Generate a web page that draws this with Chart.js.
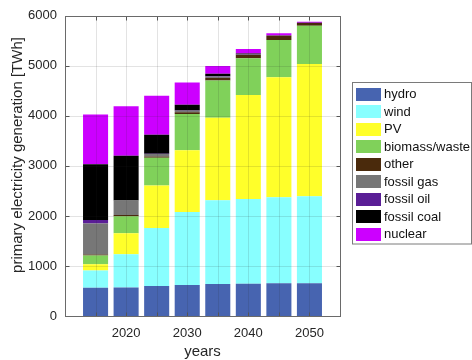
<!DOCTYPE html>
<html>
<head>
<meta charset="utf-8">
<script src="https://cdn.jsdelivr.net/npm/chart.js@4/dist/chart.umd.min.js"></script>
<style>
  html, body { margin: 0; padding: 0; background: #fff; }
  canvas { display: block; }
</style>
</head>
<body>
<canvas id="chart" width="472" height="360"></canvas>
<script>
// Primary electricity generation by source, TWh per year
const years = [2015, 2020, 2025, 2030, 2035, 2040, 2045, 2050];
const hydro      = [563, 569, 600, 621, 641, 647, 653, 653];
const wind       = [345, 666, 1157, 1457, 1673, 1693, 1720, 1739];
const pv         = [125, 419, 849, 1236, 1647, 2078, 2398, 2647];
const biomass    = [176, 339, 555, 725, 745, 732, 745, 761];
const other      = [20, 27, 27, 31, 49, 69, 84, 55];
const fossilGas  = [621, 287, 50, 30, 29, 5, 2, 2];
const fossilOil  = [70, 3, 5, 5, 6, 2, 1, 1];
const fossilCoal = [1113, 893, 380, 117, 53, 20, 5, 4];
const nuclear    = [993, 987, 777, 445, 153, 92, 45, 18];

const xTickValues = [2020, 2030, 2040, 2050];
const yTickValues = [0, 1000, 2000, 3000, 4000, 5000, 6000];

const FONT = "'Liberation Sans', Arial, Helvetica, sans-serif";
const TEXT = '#262626';

const series = [
  { label: 'hydro',         values: hydro,      color: '#4764B0' },
  { label: 'wind',          values: wind,       color: '#88FFFF' },
  { label: 'PV',            values: pv,         color: '#FFFF2A' },
  { label: 'biomass/waste', values: biomass,    color: '#80D15A' },
  { label: 'other',         values: other,      color: '#4A2A0C' },
  { label: 'fossil gas',    values: fossilGas,  color: '#777777' },
  { label: 'fossil oil',    values: fossilOil,  color: '#5A1E96' },
  { label: 'fossil coal',   values: fossilCoal, color: '#000000' },
  { label: 'nuclear',       values: nuclear,    color: '#CC00FF' }
];

const datasets = series.map(s => ({
  label: s.label,
  data: years.map((yr, i) => ({ x: yr, y: s.values[i] })),
  backgroundColor: s.color,
  borderWidth: 0,
  categoryPercentage: 0.82,
  barPercentage: 1.0
}));

// Grid, box, inward ticks and axis titles, drawn over the bars
const axesOverlay = {
  id: 'axesOverlay',
  afterDatasetsDraw(chart) {
    const { ctx, chartArea: a, scales } = chart;
    const xs = scales.x, ys = scales.y;
    const L = Math.round(a.left) + 0.5, R = Math.round(a.right) + 0.5;
    const T = Math.round(a.top) + 0.5, B = Math.round(a.bottom) + 0.5;
    ctx.save();
    ctx.lineWidth = 1;
    ctx.strokeStyle = 'rgba(38,38,38,0.13)';
    ctx.beginPath();
    years.forEach(yr => {
      const px = Math.round(xs.getPixelForValue(yr)) + 0.5;
      ctx.moveTo(px, T); ctx.lineTo(px, B);
    });
    yTickValues.slice(1, -1).forEach(v => {
      const py = Math.round(ys.getPixelForValue(v)) + 0.5;
      ctx.moveTo(L, py); ctx.lineTo(R, py);
    });
    ctx.stroke();

    // tick marks pointing inward
    ctx.strokeStyle = '#555555';
    ctx.beginPath();
    const tl = 4;
    years.forEach(yr => {
      const px = Math.round(xs.getPixelForValue(yr)) + 0.5;
      ctx.moveTo(px, B); ctx.lineTo(px, B - tl);
      ctx.moveTo(px, T); ctx.lineTo(px, T + tl);
    });
    yTickValues.forEach(v => {
      const py = Math.round(ys.getPixelForValue(v)) + 0.5;
      ctx.moveTo(L, py); ctx.lineTo(L + tl, py);
      ctx.moveTo(R, py); ctx.lineTo(R - tl, py);
    });
    ctx.stroke();

    // axes box
    ctx.strokeStyle = '#6a6a6a';
    ctx.strokeRect(L, T, R - L, B - T);

    // axis titles
    ctx.fillStyle = TEXT;
    ctx.font = '15px ' + FONT;
    ctx.textAlign = 'center';
    ctx.textBaseline = 'middle';
    ctx.fillText('years', (a.left + a.right) / 2, 352);
    ctx.translate(17.5, 155);
    ctx.rotate(-Math.PI / 2);
    ctx.fillText('primary electricity generation [TWh]', 0, 0);
    ctx.restore();
  }
};

// Boxed legend to the right of the axes
const boxLegend = {
  id: 'boxLegend',
  afterDraw(chart) {
    const { ctx } = chart;
    const bx = 352.5, by = 82.5, bw = 119, bh = 161.5;
    const rowH = 17.5, firstRow = 94;
    ctx.save();
    ctx.fillStyle = '#ffffff';
    ctx.fillRect(bx, by, bw, bh);
    ctx.strokeStyle = '#7a7a7a';
    ctx.lineWidth = 1;
    ctx.strokeRect(bx, by, bw, bh);
    ctx.font = '13px ' + FONT;
    ctx.textAlign = 'left';
    ctx.textBaseline = 'middle';
    chart.data.datasets.forEach((ds, i) => {
      const cy = firstRow + i * rowH;
      ctx.fillStyle = ds.backgroundColor;
      ctx.fillRect(356, Math.round(cy - 6.5), 25, 13);
      ctx.fillStyle = '#111111';
      ctx.fillText(ds.label, 384, cy + 0.5);
    });
    ctx.restore();
  }
};

new Chart(document.getElementById('chart'), {
  type: 'bar',
  data: { datasets },
  options: {
    responsive: false,
    animation: false,
    devicePixelRatio: 1,
    layout: { padding: { left: 0, right: 132, top: 11, bottom: 0 } },
    plugins: { legend: { display: false }, tooltip: { enabled: false } },
    scales: {
      x: {
        type: 'linear',
        min: 2010,
        max: 2055,
        offset: false,
        stacked: true,
        grid: { display: false, drawTicks: false },
        border: { display: false },
        ticks: {
          font: { family: FONT, size: 13 }, color: TEXT, padding: 10, maxRotation: 0,
          callback: v => String(v)
        },
        afterBuildTicks: s => { s.ticks = xTickValues.map(v => ({ value: v })); },
        afterFit: s => { s.height = 44; }
      },
      y: {
        min: 0,
        max: 6000,
        stacked: true,
        grid: { display: false, drawTicks: false },
        border: { display: false },
        ticks: {
          font: { family: FONT, size: 13 }, color: TEXT, padding: 8,
          callback: v => String(v)
        },
        afterBuildTicks: s => { s.ticks = yTickValues.map(v => ({ value: v })); },
        afterFit: s => { s.width = 65; }
      }
    }
  },
  plugins: [axesOverlay, boxLegend]
});
</script>
</body>
</html>
